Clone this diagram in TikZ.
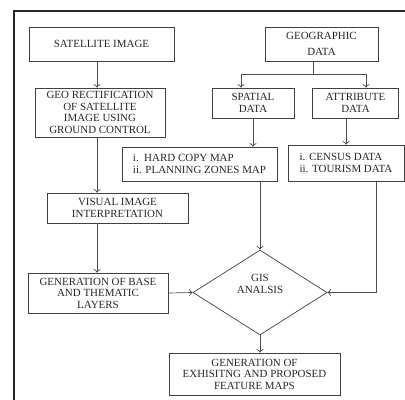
\documentclass[tikz,border=0pt]{standalone}
\usepackage{fontspec}
\setmainfont{Liberation Serif}
\usetikzlibrary{shapes.geometric,arrows.meta}

\begin{document}
\begin{tikzpicture}[x=1bp,y=-1bp,
  every node/.style={font=\fontsize{11}{11.5}\selectfont, text=black!85},
  box/.style={draw=black!75, line width=0.7bp, align=center, inner xsep=2bp, inner ysep=1bp},
  arr/.style={draw=black!70, line width=0.7bp, -{To[length=3.5bp,width=7bp]}},
  plainline/.style={draw=black!70, line width=0.7bp},
  outerline/.style={draw=black!85, line width=1.8bp}]
\useasboundingbox (0,0) rectangle (405,400);
\draw[outerline] (14,401) -- (14,11) -- (406,11);

\node[box, minimum width=145bp, minimum height=34bp] (sat) at (101.5,44) {SATELLITE IMAGE};
\node[box, minimum width=113bp, minimum height=34bp] (geo) at (321.5,44) {GEOGRAPHIC\\[5bp]DATA};
\node[box, minimum width=130bp, minimum height=49bp] (rect) at (100,112.5) {GEO RECTIFICATION\\OF SATELLITE\\IMAGE USING\\GROUND CONTROL};
\node[box, minimum width=82bp, minimum height=30bp] (spat) at (253,103) {SPATIAL\\DATA};
\node[box, minimum width=86bp, minimum height=30bp] (attr) at (355.5,103) {ATTRIBUTE\\DATA};
\node[box, align=left, minimum width=155bp, minimum height=34bp] (hard) at (199.5,164) {i.\ \ HARD COPY MAP\\ii. PLANNING ZONES MAP};
\node[box, align=left, minimum width=116bp, minimum height=36bp] (cens) at (346,163) {i. CENSUS DATA\\ii. TOURISM DATA};
\node[box, minimum width=141bp, minimum height=30bp] (vis) at (117.5,208) {VISUAL IMAGE\\INTERPRETATION};
\node[box, minimum width=140bp, minimum height=40bp] (base) at (98,293) {GENERATION OF BASE\\AND THEMATIC\\LAYERS};
\node[diamond, draw=black!75, line width=0.7bp, minimum width=134bp, minimum height=85bp, inner sep=0pt] (gis) at (260,292.5) {};
\node[align=center] (gistxt) at (260,284) {GIS\\ANALSIS};
\node[box, minimum width=171bp, minimum height=42bp] (out) at (254.5,374) {GENERATION OF\\EXHISITNG AND PROPOSED\\FEATURE MAPS};

% connectors
\coordinate (spine) at (97,0);
\coordinate (split) at (313,74);
\coordinate (brL) at (241,74);
\coordinate (brR) at (366,74);

\draw[arr] (sat.south -| spine) -- (rect.north -| spine);
\draw[arr] (rect.south -| spine) -- (vis.north -| spine);
\draw[arr] (vis.south -| spine) -- (base.north -| spine);
\draw[plainline] (geo.south -| split) -- (split);
\draw[arr] (split) -- (brL) -- (spat.north -| brL);
\draw[arr] (split) -- (brR) -- (attr.north -| brR);
\draw[arr] (spat.south) -- (hard.north -| spat.south);
\draw[arr] (attr.south -| cens.north) -- (cens.north);
\draw[arr] (hard.south -| gis.north) -- (gis.north);
\draw[arr] ([xshift=30bp]cens.south) |- (gis.east);
\draw[arr] (base.east) -- (gis.west);
\draw[arr] (gis.south) -- (out.north -| gis.south);
\end{tikzpicture}
\end{document}
